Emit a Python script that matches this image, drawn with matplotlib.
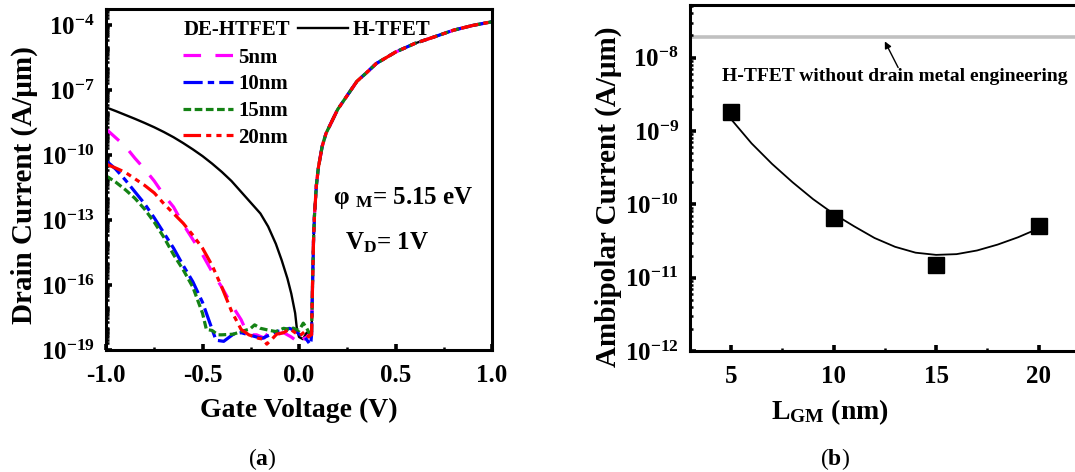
import numpy as np
import matplotlib
matplotlib.use("Agg")
import matplotlib.pyplot as plt
from matplotlib.ticker import FixedLocator, LogLocator, LogFormatterMathtext, NullFormatter, MultipleLocator

plt.rcParams.update({
    "font.family": ["Liberation Serif", "DejaVu Serif"],
    "font.weight": "bold",
    "axes.labelweight": "bold",
    "mathtext.fontset": "custom",
    "mathtext.rm": "Liberation Serif:bold",
    "mathtext.it": "Liberation Serif:italic:bold",
    "mathtext.bf": "Liberation Serif:bold",
    "axes.unicode_minus": False,
    "axes.linewidth": 2.2,
})

# ---- panel (a): drain current vs gate voltage (log10 of A/um) ----
# shared on-state branch (all devices identical)
vg_on = [0.065, 0.07, 0.075, 0.08, 0.09, 0.1, 0.12, 0.14, 0.17, 0.2, 0.25, 0.3,
         0.35, 0.4, 0.5, 0.6, 0.7, 0.8, 0.9, 1.0]
lg_on = [-18.3, -16.0, -14.0, -12.8, -11.4, -10.6, -9.6, -9.0, -8.45, -7.9, -7.25, -6.6,
         -6.2, -5.78, -5.25, -4.85, -4.55, -4.24, -4.02, -3.85]

# H-TFET off branch
vg_h = [-1.0, -0.95, -0.9, -0.85, -0.8, -0.75, -0.7, -0.65, -0.6, -0.55, -0.5, -0.45, -0.4,
        -0.35, -0.3, -0.25, -0.2, -0.16, -0.12, -0.09, -0.06, -0.04, -0.02, -0.01, -0.003,
        0.0, 0.02, 0.04, 0.06]
lg_h = [-7.8, -7.97, -8.15, -8.33, -8.52, -8.72, -8.94, -9.18, -9.45, -9.74, -10.05, -10.4,
        -10.78, -11.2, -11.7, -12.2, -12.7, -13.3, -14.1, -14.85, -15.7, -16.4, -17.3, -18.1,
        -18.3, -18.4, -18.5, -18.2, -18.4]

# DE-HTFET, L_GM = 5 nm
vg_5 = [-1.0, -0.95, -0.9, -0.85, -0.8, -0.75, -0.7, -0.65, -0.6, -0.55, -0.5, -0.45, -0.4,
        -0.35, -0.3, -0.27, -0.25, -0.22, -0.18, -0.15, -0.12, -0.08, -0.04, -0.01, 0.01,
        0.03, 0.05, 0.06]
lg_5 = [-8.8, -9.2, -9.6, -10.15, -10.65, -11.2, -11.85, -12.4, -13.2, -13.9, -14.6, -15.4,
        -16.1, -16.9, -17.6, -18.2, -18.3, -18.3, -18.45, -18.1, -18.3, -18.2, -18.4, -18.6,
        -18.3, -18.5, -18.3, -18.4]

# 10 nm
vg_10 = [-1.0, -0.95, -0.9, -0.85, -0.8, -0.75, -0.7, -0.65, -0.6, -0.55, -0.5, -0.46, -0.43,
         -0.39, -0.36, -0.34, -0.3, -0.26, -0.22, -0.19, -0.15, -0.12, -0.08, -0.05, -0.02,
         0.005, 0.03, 0.058, 0.062]
lg_10 = [-10.26, -10.65, -11.15, -11.7, -12.25, -12.9, -13.6, -14.3, -15.1, -15.85, -16.8,
         -17.8, -18.55, -18.6, -18.4, -18.27, -18.2, -18.3, -18.4, -18.46, -18.3, -18.15,
         -18.1, -18.0, -18.1, -18.3, -18.4, -18.75, -18.6]

# 15 nm
vg_15 = [-1.0, -0.95, -0.9, -0.85, -0.8, -0.75, -0.7, -0.65, -0.6, -0.55, -0.5, -0.48, -0.45,
         -0.42, -0.4, -0.34, -0.3, -0.254, -0.23, -0.2, -0.15, -0.12, -0.08, -0.047, -0.03,
         0.0, 0.022, 0.04, 0.058]
lg_15 = [-10.96, -11.25, -11.6, -12.0, -12.5, -13.1, -13.8, -14.6, -15.3, -16.1, -17.3,
         -18.05, -18.1, -18.3, -18.3, -18.27, -18.15, -18.03, -17.84, -18.0, -18.1, -18.15,
         -18.0, -18.05, -17.99, -18.1, -17.76, -18.0, -18.3]

# 20 nm
vg_20 = [-1.0, -0.95, -0.9, -0.85, -0.8, -0.75, -0.7, -0.65, -0.6, -0.55, -0.5, -0.45, -0.4,
         -0.35, -0.3, -0.26, -0.21, -0.185, -0.167, -0.14, -0.116, -0.08, -0.047, -0.02,
         0.005, 0.03, 0.05, 0.06]
lg_20 = [-10.42, -10.6, -10.8, -11.1, -11.4, -11.75, -12.25, -12.7, -13.15, -13.7, -14.3,
         -15.1, -16.1, -17.2, -18.05, -18.3, -18.46, -18.5, -18.73, -18.5, -18.27, -18.2,
         -18.03, -18.2, -18.34, -18.15, -18.4, -18.3]

# ---- panel (b): ambipolar current vs L_GM ----
lgm = [5, 10, 15, 20]
i_amb = [1.8e-9, 6.5e-11, 1.5e-11, 5.0e-11]
i_htfet = 1.9e-8
lgm_fit = [5, 6, 7, 8, 9, 10, 11, 12, 13, 14, 15, 16, 17, 18, 19, 20]
lg_fit = [-8.84, -9.17, -9.45, -9.70, -9.93, -10.13, -10.30, -10.46, -10.58, -10.66, -10.69,
          -10.68, -10.63, -10.55, -10.45, -10.33]

fig = plt.figure(figsize=(10.75, 4.72), dpi=100)

# ----------------- (a) -----------------
ax1 = fig.add_axes([0.0986, 0.2585, 0.3591, 0.7225])
ax1.set_yscale("log")


def full(vg, lg):
    return np.concatenate([vg, vg_on]), 10.0 ** np.concatenate([lg, lg_on])


styles = [
    (vg_5, lg_5, "#ff00ff", (0, (5.5, 4.5)), "5nm"),
    (vg_10, lg_10, "#0000ff", (0, (6, 1.6, 2, 1.6)), "10nm"),
    (vg_15, lg_15, "#148214", (0, (2.4, 1.1)), "15nm"),
    (vg_20, lg_20, "#ff0000", (0, (5.5, 1.6, 1.6, 1.6, 1.6, 1.6)), "20nm"),
]
x, y = full(vg_h, lg_h)
h_black, = ax1.plot(x, y, color="k", lw=1.7, label="H-TFET")
handles = []
for vg, lg, c, ls, lab in styles:
    x, y = full(vg, lg)
    h, = ax1.plot(x, y, color=c, lw=2.3, ls=ls, label=lab)
    handles.append(h)

ax1.set_xlim(-1.0, 1.0)
ax1.set_ylim(1e-19, 5.5e-4)
ax1.xaxis.set_major_locator(MultipleLocator(0.5))
ax1.xaxis.set_minor_locator(MultipleLocator(0.25))
ax1.yaxis.set_major_locator(FixedLocator([10.0 ** e for e in range(-19, -3, 3)]))
ax1.yaxis.set_major_formatter(LogFormatterMathtext())
ax1.yaxis.set_minor_locator(LogLocator(base=10, subs=np.arange(1, 10), numticks=200))
ax1.yaxis.set_minor_formatter(NullFormatter())
ax1.xaxis.set_major_formatter(plt.FuncFormatter(lambda v, p: f"{v:.1f}"))

ax1.set_xlabel("Gate Voltage (V)", fontsize=20)
ax1.set_ylabel("Drain Current (A/μm)", fontsize=21)
ax1.xaxis.set_label_coords(0.5, -0.14)
ax1.yaxis.set_label_coords(-0.175, 0.484)

ax1.text(0.2, 0.938, "DE-HTFET", transform=ax1.transAxes, fontsize=15, va="center", ha="left")
leg1 = ax1.legend(handles=[h_black], loc="upper left", bbox_to_anchor=(0.497, 0.967),
                  frameon=False, fontsize=15, handlelength=2.4, handletextpad=0.25,
                  borderpad=0, borderaxespad=0)
ax1.add_artist(leg1)
ax1.legend(handles=handles, loc="upper left", bbox_to_anchor=(0.2, 0.887), frameon=False,
           fontsize=15, handlelength=2.4, handletextpad=0.25, labelspacing=0.32,
           borderpad=0, borderaxespad=0)

ax1.text(0.588, 0.446, r"φ $\mathdefault{_M}$= 5.15 eV", transform=ax1.transAxes,
         fontsize=18, va="center", ha="left")
ax1.text(0.619, 0.314, r"V$\mathdefault{_D}$= 1V", transform=ax1.transAxes,
         fontsize=18, va="center", ha="left")

# ----------------- (b) -----------------
ax2 = fig.add_axes([0.6419, 0.2564, 0.3719, 0.733])
ax2.set_yscale("log")
ax2.axhline(i_htfet, color="#c0c0c0", lw=2.6, zorder=1)
ax2.plot(lgm_fit, 10.0 ** np.array(lg_fit), color="k", lw=1.3)
ax2.plot(lgm, i_amb, "s", color="k", ms=11)
ax2.set_xlim(3, 22.5)
ax2.set_ylim(1e-12, 5.2e-8)
ax2.xaxis.set_major_locator(FixedLocator([5, 10, 15, 20]))
ax2.xaxis.set_minor_locator(FixedLocator([7.5, 12.5, 17.5]))
ax2.yaxis.set_major_locator(LogLocator(base=10, numticks=20))
ax2.yaxis.set_major_formatter(LogFormatterMathtext())
ax2.yaxis.set_minor_locator(LogLocator(base=10, subs=np.arange(2, 10), numticks=50))
ax2.yaxis.set_minor_formatter(NullFormatter())
ax2.set_xlabel(r"L$\mathdefault{_{GM}}$ (nm)", fontsize=20)
ax2.set_ylabel("Ambipolar Current (A/μm)", fontsize=21)
ax2.xaxis.set_label_coords(0.35, -0.135)
ax2.yaxis.set_label_coords(-0.17, 0.445)

ax2.text(4.56, 5.6e-9, "H-TFET without drain metal engineering", fontsize=14,
         va="center", ha="left")
ax2.annotate("", xy=(12.5, 1.66e-8), xytext=(13.15, 7.3e-9),
             arrowprops=dict(arrowstyle="-|>", color="k", lw=1.0, mutation_scale=10,
                             shrinkA=0, shrinkB=0))

for ax in (ax1, ax2):
    ax.tick_params(which="major", direction="in", length=4, width=2.6, labelsize=18, pad=8)
    ax.tick_params(which="minor", direction="in", length=2.5, width=1.8)
    ax.tick_params(axis="x", which="major", pad=10)
    ax.tick_params(top=False, right=False, which="both")

# captions
fig.text(0.2437, 0.027, r"($\mathbf{a}$)", fontsize=17, fontweight="normal",
         ha="center", va="center")
fig.text(0.7767, 0.027, r"($\mathbf{b}$)", fontsize=17, fontweight="normal",
         ha="center", va="center")

fig.savefig("out.png", dpi=100)
